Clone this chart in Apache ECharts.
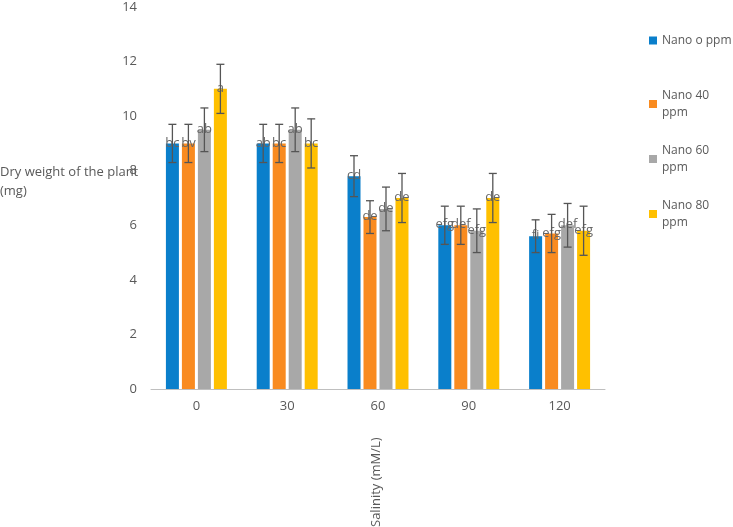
<!DOCTYPE html>
<html lang="en">
<head>
    <meta charset="UTF-8">
    <title>Dry weight</title>
    <script src="https://cdn.jsdelivr.net/npm/echarts@6/dist/echarts.min.js"></script>
</head>
<body style="margin:0">
    <div id="main" style="width: 733px;height:527px;"></div>
    <script>
        let categories = ['0', '30', '60', '90', '120']
        let seriesNames = ['Nano o ppm', 'Nano 40\nppm', 'Nano 60\nppm', 'Nano 80\nppm']
        let colors = ['#0A7FCB', '#F98B20', '#A8A8A8', '#FFC000']
        let values = [
            [9, 9, 7.8, 6, 5.6],
            [9, 9, 6.3, 6, 5.7],
            [9.5, 9.5, 6.6, 5.8, 6],
            [11, 9, 7, 7, 5.8]
        ]
        let errors = [
            [0.7, 0.7, 0.75, 0.7, 0.6],
            [0.7, 0.7, 0.6, 0.7, 0.7],
            [0.8, 0.8, 0.8, 0.8, 0.8],
            [0.9, 0.9, 0.9, 0.9, 0.9]
        ]
        let letters = [
            ['bc', 'ab', 'cd', 'efg', 'fi'],
            ['bv', 'bc', 'de', 'def', 'efg'],
            ['ab', 'ab', 'de', 'efg', 'def'],
            ['a', 'bc', 'de', 'de', 'efg']
        ]
        let yTicks = [0, 2, 4, 6, 8, 10, 12, 14]
    </script>
    <script>
        var myChart = echarts.init(document.getElementById('main'));
        var barW = 13, step = 16;
        var series = [];
        values.forEach(function (vals, i) {
            series.push({
                name: seriesNames[i],
                type: 'bar',
                barWidth: barW,
                barGap: '23%',
                itemStyle: { color: colors[i] },
                label: {
                    show: true,
                    position: 'top',
                    distance: -6,
                    color: '#666',
                    fontSize: 13,
                    fontFamily: 'Open Sans',
                    formatter: function (p) { return letters[i][p.dataIndex]; }
                },
                data: vals
            });
        });
        values.forEach(function (vals, i) {
            series.push({
                type: 'custom',
                silent: true,
                z: 5,
                data: vals.map(function (v, k) { return [k, v - errors[i][k], v + errors[i][k]]; }),
                renderItem: function (params, api) {
                    var lo = api.coord([api.value(0), api.value(1)]);
                    var hi = api.coord([api.value(0), api.value(2)]);
                    var x = lo[0] + (i - 1.5) * step;
                    var st = { stroke: '#555', lineWidth: 1.3 };
                    return {
                        type: 'group', children: [
                            { type: 'line', shape: { x1: x, y1: lo[1], x2: x, y2: hi[1] }, style: st },
                            { type: 'line', shape: { x1: x - 4, y1: lo[1], x2: x + 4, y2: lo[1] }, style: st },
                            { type: 'line', shape: { x1: x - 4, y1: hi[1], x2: x + 4, y2: hi[1] }, style: st }
                        ]
                    };
                }
            });
        });

        var legendBase = {
            orient: 'vertical',
            left: 644,
            itemWidth: 8,
            itemHeight: 8,
            itemGap: 21,
            icon: 'rect',
            textStyle: { color: '#595959', fontSize: 12, lineHeight: 17 }
        };

        var option = {
            textStyle: { fontFamily: 'Open Sans' },
            grid: { left: 151, right: 128, top: 7, bottom: 138 },
            legend: [
                Object.assign({}, legendBase, { top: 27, data: [seriesNames[0]] }),
                Object.assign({}, legendBase, { top: 82, data: seriesNames.slice(1) })
            ],
            graphic: [
                {
                    type: 'text', left: 0, top: 163,
                    style: { text: 'Dry weight of the plant\n(mg)', fill: '#595959', fontSize: 13, lineHeight: 19, align: 'center', x: 75, fontFamily: 'Open Sans' }
                },
                {
                    type: 'text', x: 370, y: 527, rotation: Math.PI / 2,
                    style: { text: 'Salinity (mM/L)', fill: '#595959', fontSize: 13, fontFamily: 'Open Sans', align: 'left', verticalAlign: 'top' }
                }
            ],
            xAxis: {
                type: 'category',
                data: categories,
                axisLine: { lineStyle: { color: '#bfbfbf' } },
                axisTick: { show: false },
                axisLabel: { color: '#595959', fontSize: 13, margin: 11 }
            },
            yAxis: {
                type: 'value',
                min: 0, max: 14, interval: 2,
                axisLine: { show: false },
                splitLine: { show: false },
                axisLabel: { color: '#595959', fontSize: 13, margin: 14, formatter: function (v) { return yTicks.indexOf(v) >= 0 ? v : ''; } }
            },
            series: series
        };
        myChart.setOption(option);
    </script>
</body>
</html>
